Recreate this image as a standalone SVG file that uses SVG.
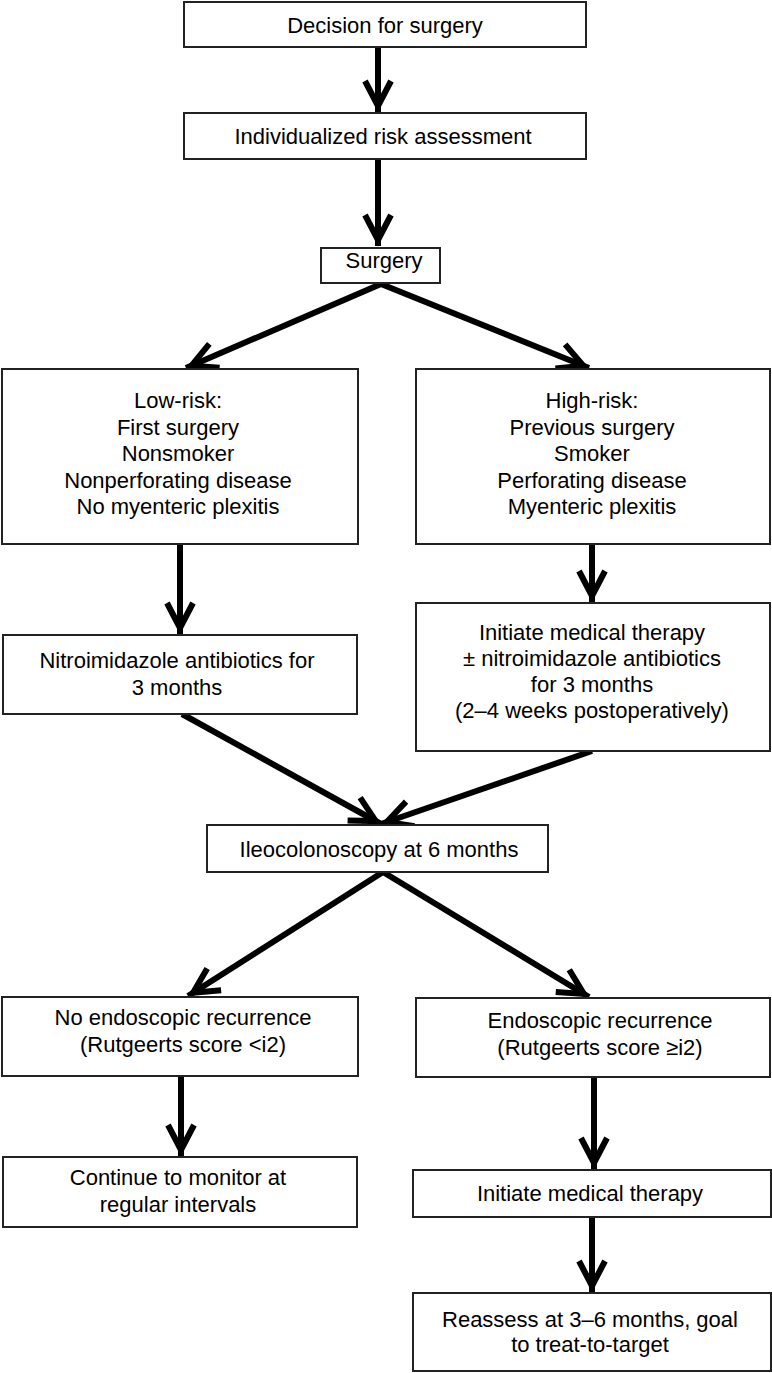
<svg xmlns="http://www.w3.org/2000/svg" width="772" height="1373" viewBox="0 0 772 1373">
<style>
.box{fill:#fff;stroke:#222;stroke-width:2}
.t{font-family:"Liberation Sans",Arial,sans-serif;font-size:22px;fill:#000;text-anchor:middle}
.c{fill:none;stroke:#000;stroke-width:6}
</style>
<defs>
<marker id="ah" markerUnits="userSpaceOnUse" viewBox="-36 -20 40 40" markerWidth="40" markerHeight="40" refX="0" refY="0" orient="auto" overflow="visible">
<path d="M-31,-13 L-6,0 L-31,13" fill="none" stroke="#000" stroke-width="6" stroke-linejoin="miter" stroke-miterlimit="10"/>
</marker>
</defs>
<rect width="772" height="1373" fill="#fff"/>
<g id="connectors">
<path class="c" d="M378,47 L378,112" marker-end="url(#ah)"/>
<path class="c" d="M378,159 L378,246" marker-end="url(#ah)"/>
<path class="c" d="M381,284 L186,368" marker-end="url(#ah)"/>
<path class="c" d="M381,284 L589,368" marker-end="url(#ah)"/>
<path class="c" d="M180,544 L180,634" marker-end="url(#ah)"/>
<path class="c" d="M592,544 L592,602" marker-end="url(#ah)"/>
<path class="c" d="M182,714 L381,824" marker-end="url(#ah)"/>
<path class="c" d="M592,751 L381,824" marker-end="url(#ah)"/>
<path class="c" d="M383,872 L188,996" marker-end="url(#ah)"/>
<path class="c" d="M383,872 L589,997" marker-end="url(#ah)"/>
<path class="c" d="M181,1076 L181,1156" marker-end="url(#ah)"/>
<path class="c" d="M594,1077 L594,1169" marker-end="url(#ah)"/>
<path class="c" d="M592,1217 L592,1292" marker-end="url(#ah)"/>
</g>
<g id="n1"><rect class="box" x="184" y="2" width="402" height="45"/><text class="t" x="385" y="33">Decision for surgery</text></g>
<g id="n2"><rect class="box" x="184" y="113" width="402" height="46"/><text class="t" x="383" y="144">Individualized risk assessment</text></g>
<g id="n3"><rect class="box" x="321" y="248" width="119" height="35"/><text class="t" x="384" y="268">Surgery</text></g>
<g id="n4"><rect class="box" x="2" y="369" width="356" height="175"/>
<text class="t" x="178" y="408">Low-risk:</text>
<text class="t" x="178" y="435">First surgery</text>
<text class="t" x="178" y="461">Nonsmoker</text>
<text class="t" x="178" y="488">Nonperforating disease</text>
<text class="t" x="178" y="514">No myenteric plexitis</text></g>
<g id="n5"><rect class="box" x="416" y="369" width="354" height="175"/>
<text class="t" x="592" y="408">High-risk:</text>
<text class="t" x="592" y="435">Previous surgery</text>
<text class="t" x="592" y="461">Smoker</text>
<text class="t" x="592" y="488">Perforating disease</text>
<text class="t" x="592" y="514">Myenteric plexitis</text></g>
<g id="n6"><rect class="box" x="3" y="635" width="354" height="79"/>
<text class="t" x="177" y="668">Nitroimidazole antibiotics for</text>
<text class="t" x="177" y="695">3 months</text></g>
<g id="n7"><rect class="box" x="416" y="603" width="354" height="148"/>
<text class="t" x="592" y="640">Initiate medical therapy</text>
<text class="t" x="592" y="666">± nitroimidazole antibiotics</text>
<text class="t" x="592" y="692">for 3 months</text>
<text class="t" x="592" y="718">(2–4 weeks postoperatively)</text></g>
<g id="n8"><rect class="box" x="207" y="825" width="341" height="47"/><text class="t" x="379" y="857">Ileocolonoscopy at 6 months</text></g>
<g id="n9"><rect class="box" x="2" y="997" width="356" height="79"/>
<text class="t" x="183" y="1025">No endoscopic recurrence</text>
<text class="t" x="183" y="1052">(Rutgeerts score &lt;i2)</text></g>
<g id="n10"><rect class="box" x="416" y="998" width="354" height="79"/>
<text class="t" x="600" y="1028">Endoscopic recurrence</text>
<text class="t" x="600" y="1055">(Rutgeerts score ≥i2)</text></g>
<g id="n11"><rect class="box" x="3" y="1157" width="354" height="70"/>
<text class="t" x="178" y="1185">Continue to monitor at</text>
<text class="t" x="178" y="1212">regular intervals</text></g>
<g id="n12"><rect class="box" x="413" y="1170" width="358" height="47"/><text class="t" x="590" y="1201">Initiate medical therapy</text></g>
<g id="n13"><rect class="box" x="413" y="1293" width="358" height="78"/>
<text class="t" x="590" y="1327">Reassess at 3–6 months, goal</text>
<text class="t" x="590" y="1352">to treat-to-target</text></g>
</svg>
